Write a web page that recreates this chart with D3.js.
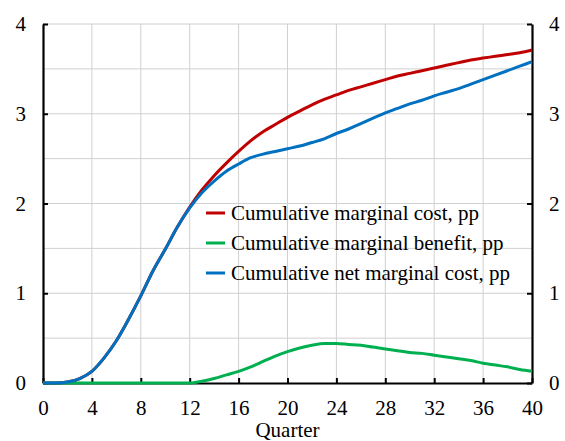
<!DOCTYPE html>
<html>
<head>
<meta charset="utf-8">
<script src="https://cdn.jsdelivr.net/npm/d3@7"></script>
<style>
  body { margin: 0; background: #fff; }
  #chart svg text { font-family: 'Liberation Serif', serif !important; font-size: 21px !important; }
</style>
</head>
<body>
<div id="chart"></div>
<script>
// Data, one value per quarter (0..40)
const quarters = d3.range(0, 41);

const marginalCost = [0, 0, 0.01, 0.05, 0.13, 0.28, 0.47, 0.71, 0.97, 1.25, 1.49, 1.74, 1.96,
  2.15, 2.31, 2.45, 2.58, 2.7, 2.8, 2.88, 2.96, 3.03, 3.1, 3.16, 3.21, 3.26, 3.3, 3.34,
  3.38, 3.42, 3.45, 3.48, 3.51, 3.54, 3.57, 3.6, 3.62, 3.64, 3.66, 3.68, 3.71];

const marginalBenefit = [0, 0, 0, 0, 0, 0, 0, 0, 0, 0, 0, 0, 0,
  0.02, 0.05, 0.09, 0.13, 0.18, 0.24, 0.3, 0.35, 0.39, 0.42, 0.44, 0.44, 0.43, 0.42, 0.4,
  0.38, 0.36, 0.34, 0.33, 0.31, 0.29, 0.27, 0.25, 0.22, 0.2, 0.18, 0.15, 0.13];

const netMarginalCost = [0, 0, 0.01, 0.05, 0.13, 0.28, 0.47, 0.71, 0.97, 1.25, 1.49, 1.74, 1.95,
  2.12, 2.25, 2.36, 2.44, 2.51, 2.55, 2.58, 2.61, 2.64, 2.68, 2.72, 2.78, 2.83, 2.89, 2.95,
  3.01, 3.06, 3.11, 3.15, 3.2, 3.24, 3.28, 3.33, 3.38, 3.43, 3.48, 3.53, 3.58];

const seriesNames = ["Cumulative marginal cost, pp", "Cumulative marginal benefit, pp", "Cumulative net marginal cost, pp"];
const seriesColors = ["#C00000", "#00B050", "#0070C0"];

const xTicks = d3.range(0, 41, 4);
const yTicks = [0, 1, 2, 3, 4];

// serif text everywhere, like the original
function serif(sel) {
  sel.attr('font-family', 'Liberation Serif')
     .attr('font-size', 21)
     .each(function () {
       this.style.setProperty('font-family', "'Liberation Serif', serif", 'important');
       this.style.setProperty('font-size', '21px', 'important');
     });
}

// Setup chart dimensions and margins
const margin = { top: 24, right: 33, bottom: 58, left: 43 };
const W = 565, H = 441;
const width = W - margin.left - margin.right;
const height = H - margin.top - margin.bottom;

const x = d3.scaleLinear().domain([0, 40]).range([0, width]);
const y = d3.scaleLinear().domain([0, 4]).range([height, 0]);

const svg = d3.select('#chart').append('svg')
    .attr('width', W)
    .attr('height', H)
  .append('g')
    .attr('transform', 'translate(' + margin.left + ',' + margin.top + ')');

// grid
svg.append('g')
    .selectAll('line')
    .data(d3.range(0.5, 4.01, 0.5))
    .join('line')
    .attr('x1', 0).attr('x2', width)
    .attr('y1', d => y(d)).attr('y2', d => y(d))
    .attr('stroke', '#d0d0d0').attr('stroke-width', 1);

svg.append('g')
    .selectAll('line')
    .data(xTicks.slice(1, -1))
    .join('line')
    .attr('x1', d => x(d)).attr('x2', d => x(d))
    .attr('y1', 0).attr('y2', height)
    .attr('stroke', '#d0d0d0').attr('stroke-width', 1);

// axes
const xAxis = svg.append('g')
    .attr('transform', 'translate(0,' + height + ')')
    .call(d3.axisBottom(x).tickValues(xTicks).tickSizeInner(-5).tickSizeOuter(0).tickPadding(17));

const yLeft = svg.append('g')
    .call(d3.axisLeft(y).tickValues(yTicks).tickSizeInner(-5).tickSizeOuter(0).tickPadding(17).tickFormat(d3.format('d')));

const yRight = svg.append('g')
    .attr('transform', 'translate(' + width + ',0)')
    .call(d3.axisRight(y).tickValues(yTicks).tickSizeInner(-5).tickSizeOuter(0).tickPadding(17).tickFormat(d3.format('d')));

[xAxis, yLeft, yRight].forEach(a => {
  a.attr('font-family', 'Liberation Serif').attr('font-size', 21);
  a.select('.domain').attr('stroke', '#000').attr('stroke-width', 2.2);
  a.selectAll('.tick line').attr('stroke', '#000').attr('stroke-width', 2);
  a.selectAll('.tick text').attr('fill', '#000').call(serif);
});

// x axis label
svg.append('text')
    .attr('x', width / 2)
    .attr('y', height + 54)
    .attr('text-anchor', 'middle')
    .call(serif)
    .text('Quarter');

// lines
const line = d3.line()
    .x((d, i) => x(quarters[i]))
    .y(d => y(d))
    .curve(d3.curveMonotoneX);

const allSeries = [marginalCost, marginalBenefit, netMarginalCost];

svg.selectAll('path.series')
    .data(allSeries)
    .join('path')
    .attr('class', 'series')
    .attr('fill', 'none')
    .attr('stroke', (d, i) => seriesColors[i])
    .attr('stroke-width', 3)
    .attr('stroke-linejoin', 'round')
    .attr('d', line);

// legend
const legend = svg.append('g')
    .attr('transform', 'translate(' + (206 - margin.left) + ',' + (213 - margin.top) + ')');

seriesNames.forEach((name, i) => {
  const row = legend.append('g').attr('transform', 'translate(0,' + i * 30 + ')');
  row.append('line')
      .attr('x1', 0).attr('x2', 19)
      .attr('y1', 0).attr('y2', 0)
      .attr('stroke', seriesColors[i])
      .attr('stroke-width', 3);
  row.append('text')
      .attr('x', 25)
      .attr('y', 0)
      .attr('dy', '0.33em')
      .call(serif)
      .text(name);
});
</script>
</body>
</html>
